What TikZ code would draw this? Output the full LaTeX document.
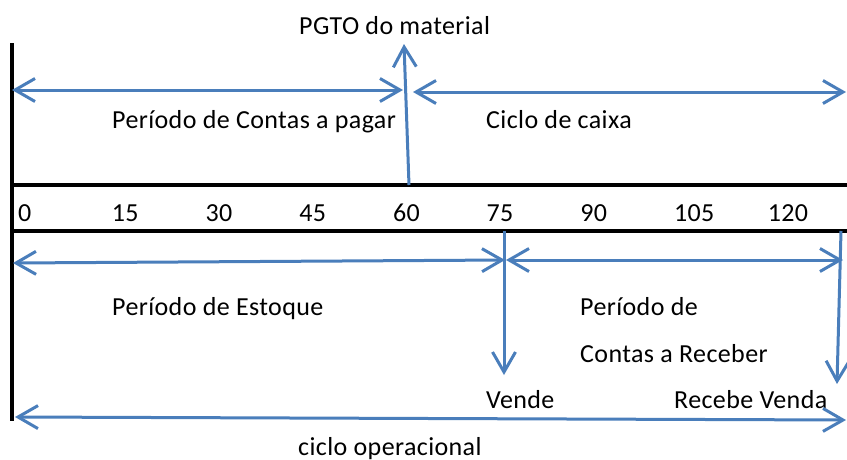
\documentclass[tikz,border=0pt]{standalone}
\usepackage{fontspec}
\setmainfont{Carlito}[LetterSpace=1.5]
\usetikzlibrary{arrows.meta}
\definecolor{arrowblue}{RGB}{74,126,187}
\begin{document}
\begin{tikzpicture}[x=1pt,y=-1pt,
  axisline/.style={line width=3.5pt,black},
  barb/.tip={Straight Barb[length=20pt,width=23pt]},
  twoway/.style={line width=3pt,arrowblue,barb-barb},
  oneway/.style={line width=3pt,arrowblue,-barb},
  lbl/.style={anchor=base west,inner sep=0pt,font=\fontsize{26}{31}\selectfont}]
\useasboundingbox (0,0) rectangle (847,459);
% axis frame
\coordinate (vtop) at (12,43);
\coordinate (vbot) at (12,421);
\coordinate (h1l) at (12,185);
\coordinate (h1r) at (847,185);
\coordinate (h2l) at (12,231);
\coordinate (h2r) at (847,231);
\draw[axisline] (vtop) -- (vbot);
\draw[axisline] (h1l) -- (h1r);
\draw[axisline] (h2l) -- (h2r);
% tick labels
\foreach \i/\t in {0/0,1/15,2/30,3/45,4/60,5/75,6/90,7/105,8/120}
  \node[lbl] (tick\i) at ({18+93.7*\i},221) {\t};
% texts
\node[lbl] (pgto) at (299,34) {PGTO do material};
\node[lbl] (pagar) at (112,128) {Período de Contas a pagar};
\node[lbl] (caixa) at (486,128) {Ciclo de caixa};
\node[lbl] (estoque) at (112,315) {Período de Estoque};
\node[lbl] (receb1) at (580,315) {Período de};
\node[lbl] (receb2) at (580,362) {Contas a Receber};
\node[lbl] (vende) at (486,408) {Vende};
\node[lbl] (recebe) at (674,408) {Recebe Venda};
\node[lbl] (ciclo) at (298,455) {ciclo operacional};
% arrow end points
\coordinate (ap1) at (12,90);
\coordinate (ap2) at (403,90);
\coordinate (pg1) at (409,185);
\coordinate (pg2) at (404,44);
\coordinate (cc1) at (413,92);
\coordinate (cc2) at (846,92);
\coordinate (pe1) at (13,263);
\coordinate (pe2) at (505,260);
\coordinate (pr1) at (506,260);
\coordinate (pr2) at (843,260);
\coordinate (vd1) at (504,231);
\coordinate (vd2) at (504,375);
\coordinate (rv1) at (841,231);
\coordinate (rv2) at (837,384);
\coordinate (co1) at (15,417);
\coordinate (co2) at (846,420);
% arrows
\draw[twoway] (ap1) -- (ap2);
\draw[oneway] (pg1) -- (pg2);
\draw[twoway] (cc1) -- (cc2);
\draw[twoway] (pe1) -- (pe2);
\draw[twoway] (pr1) -- (pr2);
\draw[oneway] (vd1) -- (vd2);
\draw[oneway] (rv1) -- (rv2);
\draw[twoway] (co1) -- (co2);
\end{tikzpicture}
\end{document}
